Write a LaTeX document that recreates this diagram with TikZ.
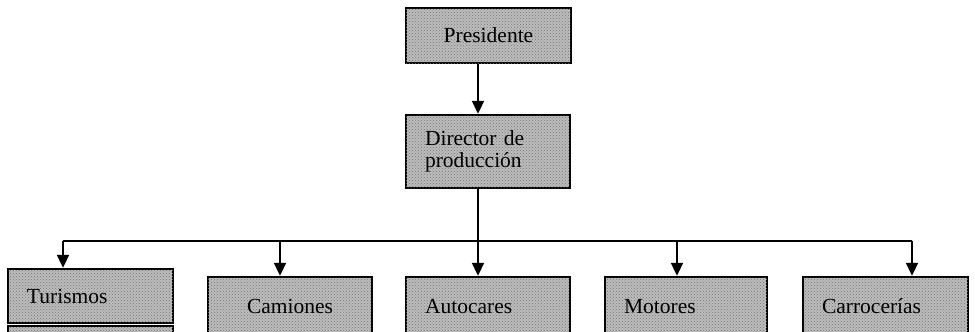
\documentclass[tikz,border=0pt]{standalone}
\usepackage{fontspec}
\setmainfont{Liberation Serif}
\usepackage{tikz}
\usetikzlibrary{arrows.meta,patterns}
\definecolor{boxgray}{rgb}{0.74,0.74,0.74}

\begin{document}
\begin{tikzpicture}[x=1pt,y=-1pt,>={Triangle[width=12pt,length=13pt]},
  box/.style={draw,line width=2.4pt,fill=boxgray,
    postaction={pattern=crosshatch dots,pattern color=black!55},
    font=\fontsize{21.5}{22}\selectfont,inner xsep=19pt,inner ysep=0pt,
    align=left},
  link/.style={line width=2pt}]
  \useasboundingbox (0,0) rectangle (975,332);
  \clip (0,0) rectangle (975,332);
  \node[box,align=center,text width=127pt,minimum height=55pt] (pres) at (488.5,35.5) {Presidente};
  \node[box,text width=126pt,minimum height=73pt] (dir) at (488,151.5) {Director de\\producción};
  \node[box,text width=127pt,minimum height=54pt] (tur) at (90.5,296) {Turismos};
  \draw[line width=2.4pt,fill=boxgray,postaction={pattern=crosshatch dots,pattern color=black!55}]
    (8,326) rectangle (173,345);
  \node[box,align=center,text width=126pt,minimum height=59pt] (cam) at (290,306.5) {Camiones};
  \node[box,text width=126pt,minimum height=59pt] (aut) at (488,306.5) {Autocares};
  \node[box,text width=124pt,minimum height=59pt] (mot) at (686,306.5) {Motores};
  \node[box,text width=127pt,minimum height=59pt] (car) at (885.5,306.5) {Carrocerías};
  % bus
  \coordinate (b1) at (63,241);
  \coordinate (b2) at (280,241);
  \coordinate (b3) at (478,241);
  \coordinate (b4) at (677,241);
  \coordinate (b5) at (912,241);
  \draw[link,->] (b3 |- pres.south) -- (b3 |- dir.north);
  \draw[link] (b3 |- dir.south) -- (b3);
  \draw[link] (b1) -- (b5);
  \draw[link,->] (b1) -- (b1 |- tur.north);
  \draw[link,->] (b2) -- (b2 |- cam.north);
  \draw[link,->] (b3) -- (b3 |- aut.north);
  \draw[link,->] (b4) -- (b4 |- mot.north);
  \draw[link,->] (b5) -- (b5 |- car.north);
\end{tikzpicture}
\end{document}
